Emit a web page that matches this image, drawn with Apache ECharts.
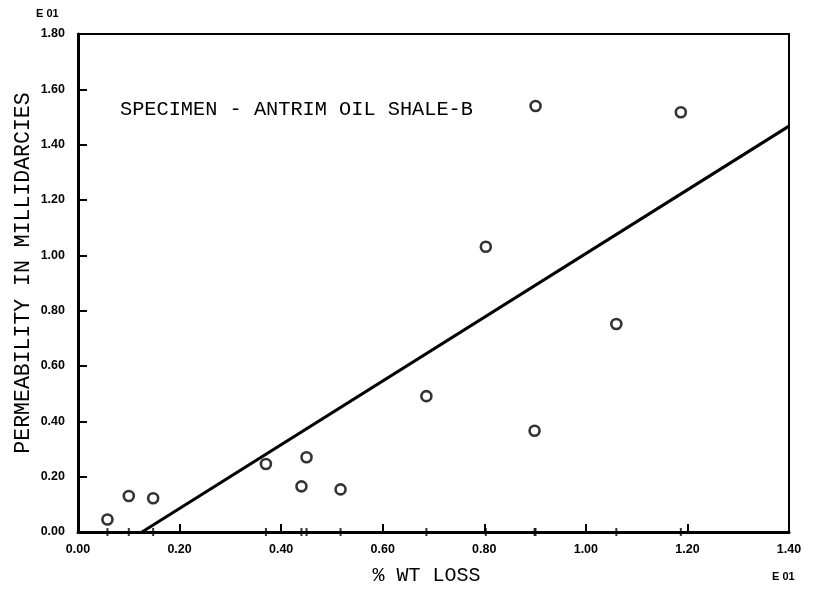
<!DOCTYPE html>
<html>
<head>
<meta charset="utf-8">
<script src="https://cdn.jsdelivr.net/npm/echarts@6/dist/echarts.min.js"></script>
<style>
  html, body { margin: 0; padding: 0; background: #fff; }
  #chart { width: 813px; height: 591px; }
</style>
</head>
<body>
<div id="chart"></div>
<script>
// Percent weight loss (x, in units of E 01)
const wtLoss = [0.058, 0.100, 0.148, 0.370, 0.450, 0.440, 0.517, 0.686, 0.803, 0.901, 0.899, 1.060, 1.187];
// Permeability in millidarcies (y, in units of E 01)
const permeability = [0.045, 0.130, 0.122, 0.246, 0.270, 0.165, 0.154, 0.491, 1.031, 1.540, 0.366, 0.752, 1.517];
// End points of the fitted straight line
const fitX = [0.126, 1.40];
const fitY = [0.0, 1.467];
// Tick labels
const xTickLabels = ['0.00', '0.20', '0.40', '0.60', '0.80', '1.00', '1.20', '1.40'];
const yTickLabels = ['0.00', '0.20', '0.40', '0.60', '0.80', '1.00', '1.20', '1.40', '1.60', '1.80'];

const points = wtLoss.map((x, i) => [x, permeability[i]]);
const fitLine = fitX.map((x, i) => [x, fitY[i]]);
const axisMarks = wtLoss.map(x => [x, 0]);

const mono = '"Liberation Mono", "DejaVu Sans Mono", monospace';
const tickFont = { fontFamily: '"Liberation Sans", Arial, sans-serif', fontWeight: 'bold', fontSize: 12.5, color: '#000' };
const smallBold = 'bold 11px "Liberation Sans", Arial, sans-serif';

const chart = echarts.init(document.getElementById('chart'), null, { renderer: 'canvas' });
chart.setOption({
  animation: false,
  backgroundColor: '#fff',
  grid: {
    left: 78, right: 24, top: 34, bottom: 59,
    outerBoundsMode: 'none', containLabel: false,
    show: true, borderColor: '#000', borderWidth: 2, backgroundColor: 'transparent'
  },
  xAxis: {
    type: 'value', min: 0, max: 1.4, interval: 0.2,
    name: '% WT LOSS', nameLocation: 'middle', nameGap: 34, nameMoveOverlap: false,
    nameTextStyle: { fontFamily: mono, fontSize: 20, color: '#000', padding: [0, 14, 0, 0] },
    axisLine: { show: true, onZero: false, lineStyle: { color: '#000', width: 3 } },
    axisTick: { show: true, inside: true, length: 8, lineStyle: { color: '#000', width: 2 } },
    axisLabel: Object.assign({ margin: 11, formatter: (v) => xTickLabels[Math.round(v / 0.2)] }, tickFont),
    splitLine: { show: false }
  },
  yAxis: {
    type: 'value', min: 0, max: 1.8, interval: 0.2,
    axisLine: { show: true, onZero: false, lineStyle: { color: '#000', width: 3 } },
    axisTick: { show: true, inside: true, length: 9, lineStyle: { color: '#000', width: 2 } },
    axisLabel: Object.assign({ margin: 13, formatter: (v) => yTickLabels[Math.round(v / 0.2)] }, tickFont),
    splitLine: { show: false }
  },
  graphic: [
    { type: 'text', left: 120, top: 100,
      style: { text: 'SPECIMEN - ANTRIM OIL SHALE-B', font: '20.3px ' + mono, fill: '#000' } },
    { type: 'text', x: 23, y: 273, rotation: Math.PI / 2,
      style: { text: 'PERMEABILITY IN MILLIDARCIES', font: '21.5px ' + mono, fill: '#000',
               align: 'center', verticalAlign: 'middle' } },
    { type: 'text', left: 36, top: 8, style: { text: 'E 01', font: smallBold, fill: '#000' } },
    { type: 'text', left: 772, top: 571, style: { text: 'E 01', font: smallBold, fill: '#000' } }
  ],
  series: [
    {
      type: 'line', data: fitLine, symbol: 'none', silent: true,
      lineStyle: { color: '#000', width: 3 }, z: 2
    },
    {
      // small marks on the x axis at each measured weight loss
      type: 'scatter', data: axisMarks, symbol: 'rect', symbolSize: [2, 8],
      itemStyle: { color: '#000' }, silent: true, z: 3
    },
    {
      type: 'scatter', data: points, symbol: 'circle', symbolSize: 10,
      itemStyle: { color: '#fff', borderColor: '#000', borderWidth: 2.6 }, z: 4
    }
  ]
});
</script>
</body>
</html>
